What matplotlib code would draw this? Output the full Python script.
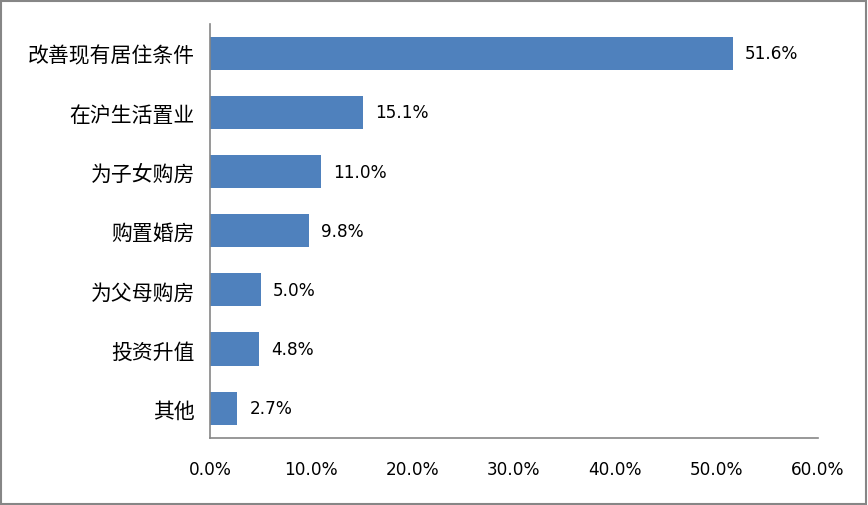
import matplotlib.pyplot as plt
from matplotlib.patches import Rectangle

plt.rcParams['font.family'] = ['Noto Sans CJK SC', 'DejaVu Sans']

# data, top to bottom as in the chart
categories = ["改善现有居住条件", "在沪生活置业", "为子女购房", "购置婚房",
              "为父母购房", "投资升值", "其他"]
shares = [51.6, 15.1, 11.0, 9.8, 5.0, 4.8, 2.7]
xticks = [0, 10, 20, 30, 40, 50, 60]

num_font = dict(family='DejaVu Sans', size=12.2)

fig = plt.figure(figsize=(8.68, 5.06), dpi=100)
ax = fig.add_axes([0.242, 0.133, 0.7, 0.818])

pos = list(range(len(categories)))
ax.barh(pos, shares, height=0.56, color='#4F81BD')
for p, v in zip(pos, shares):
    ax.text(v + 1.2, p, f"{v:.1f}%", va='center', ha='left', **num_font)

ax.set_ylim(len(categories) - 0.5, -0.5)
ax.set_xlim(0, 60)
ax.set_yticks(pos)
ax.set_yticklabels(categories, fontsize=15)
ax.set_xticks(xticks)
ax.set_xticklabels([f"{t:.1f}%" for t in xticks], **num_font)
ax.tick_params(length=0, pad=16, axis='x')
ax.tick_params(length=0, pad=11, axis='y')

for s in ['top', 'right']:
    ax.spines[s].set_visible(False)
for s in ['left', 'bottom']:
    ax.spines[s].set_color('#868686')
    ax.spines[s].set_linewidth(1.2)

# outer chart border
fig.patches.append(Rectangle((0.001, 0.002), 0.997, 0.995, transform=fig.transFigure,
                             fill=False, edgecolor='#868686', linewidth=1.5))

fig.savefig("out.png", dpi=100)
